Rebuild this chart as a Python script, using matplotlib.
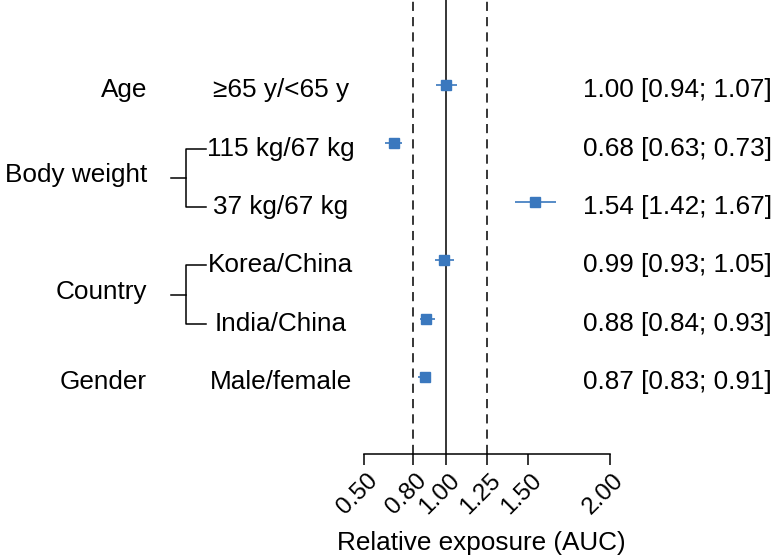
import matplotlib
matplotlib.use("Agg")
import matplotlib.pyplot as plt
import matplotlib.transforms as mtransforms
from matplotlib.lines import Line2D

plt.rcParams["font.family"] = ["Liberation Sans", "DejaVu Sans"]

# covariate effects on exposure (AUC ratio, 90% CI)
groups = ["Age", "Body weight", "Body weight", "Country", "Country", "Gender"]
subgroups = ["≥65 y/<65 y", "115 kg/67 kg", "37 kg/67 kg",
             "Korea/China", "India/China", "Male/female"]
ratio = [1.00, 0.68, 1.54, 0.99, 0.88, 0.87]
lower = [0.94, 0.63, 1.42, 0.93, 0.84, 0.83]
upper = [1.07, 0.73, 1.67, 1.05, 0.93, 0.91]
ref_lines = [0.80, 1.00, 1.25]
ticks = [0.50, 0.80, 1.00, 1.25, 1.50, 2.00]

BLUE = "#3a78be"
FS = 18.8
W, H = 776, 560

fig = plt.figure(figsize=(W / 100, H / 100), dpi=100)
ax = fig.add_axes([364 / W, (H - 454) / H, 246 / W, 454 / H])
ax.set_xlim(0.5, 2.0)
ax.set_ylim(6.318, -1.455)

rows = list(range(len(ratio)))
for r, m, lo, hi in zip(rows, ratio, lower, upper):
    ax.plot([lo, hi], [r, r], color=BLUE, lw=1.2, solid_capstyle="butt")
    ax.plot(m, r, marker="s", ms=7.2, color=BLUE, mec=BLUE)

for v in ref_lines:
    ax.axvline(v, color="black", lw=1.1,
               ls="-" if v == 1.0 else (0, (6, 4)), zorder=0)

for s in ["top", "right", "left"]:
    ax.spines[s].set_visible(False)
ax.spines["bottom"].set_linewidth(1.1)
ax.set_yticks([])
ax.set_xticks(ticks)
ax.set_xticklabels([f"{t:.2f}" for t in ticks], rotation=45, ha="right",
                    va="center", rotation_mode="anchor", fontsize=17.5)
ax.tick_params(axis="x", length=8, width=1.1, pad=8.5)
shift = mtransforms.ScaledTranslation(0.10, 0, fig.dpi_scale_trans)
for lbl in ax.get_xticklabels():
    lbl.set_transform(lbl.get_transform() + shift)

# left/right text columns: x in figure fraction, y in row units
tr = mtransforms.blended_transform_factory(fig.transFigure, ax.transData)
dy = 0.09
shown = set()
for r, g, sg, m, lo, hi in zip(rows, groups, subgroups, ratio, lower, upper):
    ax.text(281 / W, r + dy, sg, transform=tr, ha="center", va="center",
            fontsize=FS, clip_on=False)
    ax.text(772 / W, r + dy, f"{m:.2f} [{lo:.2f}; {hi:.2f}]", transform=tr,
            ha="right", va="center", fontsize=FS, clip_on=False)
    if g in shown:
        continue
    shown.add(g)
    idx = [i for i, gg in enumerate(groups) if gg == g]
    mid = (idx[0] + idx[-1]) / 2
    ax.text(147 / W, mid + (dy if len(idx) == 1 else 0.04), g,
            transform=tr, ha="right", va="center", fontsize=FS, clip_on=False)
    if len(idx) > 1:
        top, bot = idx[0] + dy, idx[-1] + dy
        xs = [206 / W, 186 / W, 186 / W, 206 / W]
        ax.add_line(Line2D(xs, [top, top, bot, bot], transform=tr,
                           color="black", lw=1.1, clip_on=False))
        ax.add_line(Line2D([171 / W, 186 / W], [mid + dy, mid + dy],
                           transform=tr, color="black", lw=1.1, clip_on=False))

fig.text(481 / W, 1 - 543 / H, "Relative exposure (AUC)", ha="center",
         va="center", fontsize=FS)

fig.savefig("out.png", dpi=100)
